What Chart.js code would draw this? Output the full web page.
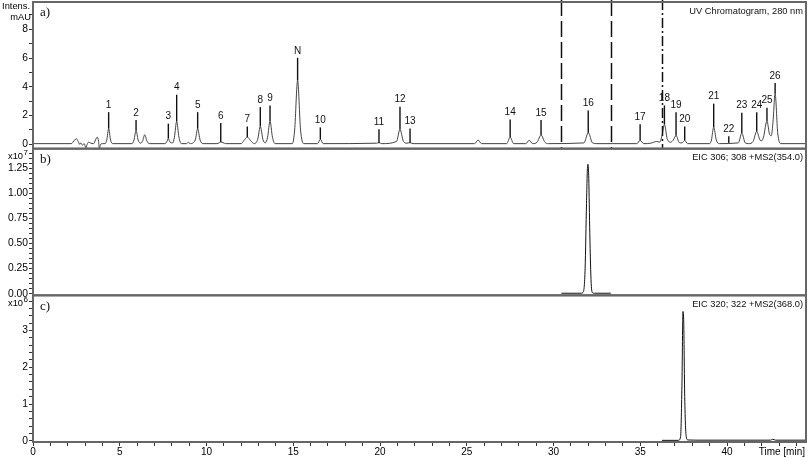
<!DOCTYPE html>
<html>
<head>
<meta charset="utf-8">
<script src="https://cdn.jsdelivr.net/npm/chart.js@4.4.1/dist/chart.umd.min.js"></script>
<style>
  body { margin: 0; background: #fff; }
  #wrap { width: 808px; height: 458px; position: relative; }
</style>
</head>
<body>
<div id="wrap"><canvas id="chromChart"></canvas></div>
<script>
// panel a) UV chromatogram, 280 nm (mAU)
const uvTime = [0.0, 2.2, 2.4, 2.5, 2.6, 2.7, 2.75, 2.85, 2.95, 3.05, 3.12, 3.2, 3.3, 3.5, 3.6, 3.7, 3.78, 3.82, 3.9, 4.0,
  4.15, 4.25, 4.36, 4.47, 4.6, 5.7, 5.82, 5.94, 6.06, 6.2, 6.32, 6.44, 6.56, 6.7, 7.6, 7.7, 7.8, 7.9, 8.05, 8.15,
  8.28, 8.41, 8.55, 8.85, 8.95, 9.05, 9.35, 9.49, 9.63, 9.8, 10.6, 10.75, 10.82, 10.95, 11.1, 12.0, 12.15, 12.35, 12.55, 12.75,
  12.95, 13.1, 13.25, 13.38, 13.52, 13.66, 13.8, 13.95, 14.95, 15.08, 15.25, 15.42, 15.6, 16.4, 16.56, 16.72, 19.8, 19.94, 20.1, 20.95,
  21.15, 21.35, 21.55, 21.73, 21.9, 25.45, 25.65, 25.85, 27.3, 27.5, 27.7, 28.4, 28.6, 28.8, 29.05, 29.28, 29.5, 29.7, 31.75, 32.0,
  32.25, 32.5, 34.8, 34.99, 35.2, 35.6, 35.95, 36.12, 36.25, 36.39, 36.55, 36.75, 36.9, 37.06, 37.25, 37.4, 37.56, 37.72, 39.0, 39.1,
  39.23, 39.38, 39.55, 40.65, 40.85, 41.05, 41.25, 41.5, 41.71, 41.9, 42.0, 42.1, 42.3, 42.45, 42.55, 42.65, 42.77, 42.92, 43.1, 44.55];
const uvSignal = [0.05, 0.05, 0.3, 0.4, 0.2, 0.0, 0.1, -0.05, 0.05, -0.25, 0.0, 0.15, 0.1, 0.05, 0.3, 0.5, 0.2, -0.28, 0.0, 0.05,
  0.05, 0.3, 1.1, 0.3, 0.05, 0.05, 0.3, 0.97, 0.3, 0.08, 0.25, 0.67, 0.25, 0.05, 0.05, 0.15, 0.4, 0.15, 0.1, 0.5,
  1.6, 0.5, 0.05, 0.05, 0.15, 0.05, 0.3, 1.09, 0.3, 0.05, 0.05, 0.12, 0.16, 0.12, 0.05, 0.05, 0.25, 0.51, 0.25, 0.05,
  0.35, 1.25, 0.35, 0.1, 0.5, 1.62, 0.5, 0.05, 0.05, 1.0, 4.44, 1.0, 0.05, 0.05, 0.35, 0.05, 0.08, 0.12, 0.05, 0.2,
  1.05, 0.2, 0.08, 0.12, 0.05, 0.05, 0.3, 0.05, 0.05, 0.5, 0.05, 0.05, 0.28, 0.05, 0.15, 0.65, 0.15, 0.05, 0.1, 0.81,
  0.1, 0.05, 0.05, 0.28, 0.05, 0.08, 0.2, 0.15, 0.6, 1.39, 0.4, 0.15, 0.3, 0.62, 0.12, 0.1, 0.28, 0.05, 0.05, 0.3,
  1.2, 0.3, 0.05, 0.1, 0.78, 0.1, 0.05, 0.2, 0.9, 0.3, 0.25, 0.5, 1.62, 0.7, 0.6, 1.6, 3.52, 0.8, 0.05, 0.05];

// peak annotations in panel a)
const peakNames = ['1', '2', '3', '4', '5', '6', '7', '8', '9', 'N', '10', '11', '12', '13', '14', '15', '16', '17', '18', '19', '20', '21', '22', '23', '24', '25', '26'];
const peakTimes = [4.36, 5.94, 7.8, 8.28, 9.49, 10.82, 12.35, 13.1, 13.66, 15.25, 16.56, 19.94, 21.15, 21.73, 27.5, 29.28, 32.0, 34.99, 36.39, 37.06, 37.56, 39.23, 40.1, 40.85, 41.71, 42.3, 42.77];
const markerTops = [2.24, 1.7, 1.44, 3.45, 2.24, 1.48, 1.25, 2.59, 2.71, 6.02, 1.18, 1.05, 2.62, 1.1, 1.72, 1.7, 2.36, 1.39, 2.71, 2.24, 1.25, 2.83, 0.56, 2.2, 2.24, 2.55, 4.26];
const markerBases = [1.1, 0.97, 0.4, 1.6, 1.09, 0.16, 0.51, 1.25, 1.62, 4.44, 0.35, 0.12, 1.05, 0.12, 0.5, 0.65, 0.81, 0.28, 1.39, 0.62, 0.28, 1.2, 0.1, 0.78, 0.9, 1.62, 3.52];

// dashed window lines in panel a)
const windowTimes = [30.45, 33.3, 36.25];

// panel b) EIC 306; 308 (x10^7)
const eicBTime = [30.45, 31.6, 31.72, 31.82, 31.9, 31.96, 31.99, 32.03, 32.09, 32.17, 32.25, 32.35, 33.3];
const eicBSignal = [0.005, 0.005, 0.02, 0.25, 0.9, 1.27, 1.29, 1.15, 0.6, 0.1, 0.01, 0.005, 0.005];

// panel c) EIC 320; 322 (x10^6)
const eicCTime = [36.25, 37.2, 37.32, 37.4, 37.46, 37.5, 37.56, 37.65, 37.75, 38.2, 42.5, 42.63, 42.8, 44.55];
const eicCSignal = [0.01, 0.01, 0.1, 1.5, 3.52, 3.3, 1.2, 0.1, 0.02, 0.015, 0.015, 0.04, 0.015, 0.015];

const panelLetters = ['a)', 'b)', 'c)'];
const panelTitles = ['UV Chromatogram, 280 nm', 'EIC 306; 308 +MS2(354.0)', 'EIC 320; 322 +MS2(368.0)'];

const sans = '"Liberation Sans", Arial, sans-serif';
const serif = '"Liberation Serif", "Times New Roman", serif';

function toPoints(xs, ys) {
    return xs.map((x, i) => ({ x: x, y: ys[i] }));
}

function yAxis(min, max, step, labelFn) {
    return {
        type: 'linear',
        position: 'left',
        stack: 'panels',
        stackWeight: 1,
        min: min,
        max: max,
        afterFit: function (scale) {
            scale.width = 33;
            scale.paddingTop = 0;
            scale.paddingBottom = 0;
        },
        border: { display: false },
        grid: { drawOnChartArea: false, tickLength: 4, color: '#333', lineWidth: 1 },
        ticks: {
            stepSize: step,
            includeBounds: false,
            autoSkip: false,
            padding: 1,
            color: '#000',
            font: { family: sans, size: 10.3 },
            callback: labelFn
        }
    };
}

const panelPlugin = {
    id: 'panelPlugin',
    afterDatasetsDraw(chart) {
        const ctx = chart.ctx;
        const x = chart.scales.x;
        const ya = chart.scales.ya;
        ctx.save();
        // window lines
        ctx.strokeStyle = '#111';
        ctx.lineWidth = 1.5;
        windowTimes.forEach((t, i) => {
            ctx.setLineDash(i < 2 ? [16, 5] : [10, 3, 2, 3]);
            const px = Math.round(x.getPixelForValue(t)) + 0.5;
            ctx.beginPath();
            ctx.moveTo(px, ya.top - 2);
            ctx.lineTo(px, ya.bottom);
            ctx.stroke();
        });
        ctx.setLineDash([]);
        // peak markers and labels
        ctx.lineWidth = 1.4;
        ctx.fillStyle = '#111';
        ctx.font = '10px ' + sans;
        ctx.textAlign = 'center';
        ctx.textBaseline = 'bottom';
        peakNames.forEach((name, i) => {
            const px = x.getPixelForValue(peakTimes[i]);
            const top = ya.getPixelForValue(markerTops[i]);
            const base = ya.getPixelForValue(markerBases[i]);
            ctx.beginPath();
            ctx.moveTo(px, top);
            ctx.lineTo(px, base);
            ctx.stroke();
            ctx.fillText(name, px, top - 2);
        });
        ctx.restore();
    },
    afterDraw(chart) {
        const ctx = chart.ctx;
        const area = chart.chartArea;
        const panels = [chart.scales.ya, chart.scales.yb, chart.scales.yc];
        ctx.save();
        ctx.strokeStyle = '#666';
        ctx.lineWidth = 2;
        panels.forEach((s, i) => {
            ctx.strokeRect(area.left, s.top, area.right - area.left, s.bottom - s.top);
            ctx.fillStyle = '#111';
            ctx.font = '13px ' + serif;
            ctx.textAlign = 'left';
            ctx.textBaseline = 'middle';
            ctx.fillText(panelLetters[i], area.left + 7, s.top + 11);
            ctx.font = '9.3px ' + sans;
            ctx.textAlign = 'right';
            ctx.fillText(panelTitles[i], area.right - 3, s.top + 9);
        });
        // axis captions
        ctx.fillStyle = '#000';
        ctx.font = '9.3px ' + sans;
        ctx.textAlign = 'right';
        ctx.fillText('Intens.', 30, 6);
        ctx.fillText('mAU', 31, 17);
        [[chart.scales.yb, '7'], [chart.scales.yc, '6']].forEach(([s, p]) => {
            ctx.font = '9.3px ' + sans;
            ctx.textAlign = 'left';
            ctx.fillText('x10', 8, s.top + 8);
            ctx.font = '8px ' + sans;
            ctx.fillText(p, 23.5, s.top + 4);
        });
        ctx.font = '10px ' + sans;
        ctx.textAlign = 'right';
        ctx.fillText('Time [min]', area.right - 1, area.bottom + 10);
        ctx.restore();
    }
};

const ctx = document.getElementById('chromChart').getContext('2d');
new Chart(ctx, {
    type: 'scatter',
    data: {
        datasets: [
            { data: toPoints(uvTime, uvSignal), yAxisID: 'ya', borderColor: '#444', borderWidth: 1 },
            { data: toPoints(eicBTime, eicBSignal), yAxisID: 'yb', borderColor: '#111', borderWidth: 1 },
            { data: toPoints(eicCTime, eicCSignal), yAxisID: 'yc', borderColor: '#111', borderWidth: 1 }
        ].map(d => Object.assign(d, { showLine: true, pointRadius: 0, cubicInterpolationMode: 'monotone' }))
    },
    options: {
        responsive: true,
        maintainAspectRatio: false,
        animation: false,
        layout: { padding: { top: 2, right: 2, left: 0, bottom: 0 } },
        plugins: { legend: { display: false }, tooltip: { enabled: false } },
        scales: {
            x: {
                type: 'linear',
                position: 'bottom',
                min: 0,
                max: 44.55,
                afterFit: function (scale) {
                    scale.paddingRight = 0;
                    scale.height = 16;
                },
                border: { display: false },
                grid: { drawOnChartArea: false, tickLength: 4, color: '#333' },
                ticks: {
                    stepSize: 1,
                    includeBounds: false,
                    autoSkip: false,
                    maxRotation: 0,
                    padding: 1,
                    color: '#000',
                    font: { family: sans, size: 10, lineHeight: 1.0 },
                    callback: v => (v % 5 === 0 && v < 44) ? v : ''
                }
            },
            yc: yAxis(-0.035, 3.96, 0.2, v => Math.abs(v - Math.round(v)) < 1e-6 ? Math.round(v) : ''),
            yb: yAxis(-0.016, 1.446, 0.05, v => (Math.round(v * 100) % 25 === 0 && v >= 0) ? v.toFixed(2) : ''),
            ya: yAxis(-0.3, 9.9, 1, v => (Math.round(v) % 2 === 0 && v >= 0) ? v : '')
        }
    },
    plugins: [panelPlugin]
});
</script>
</body>
</html>
